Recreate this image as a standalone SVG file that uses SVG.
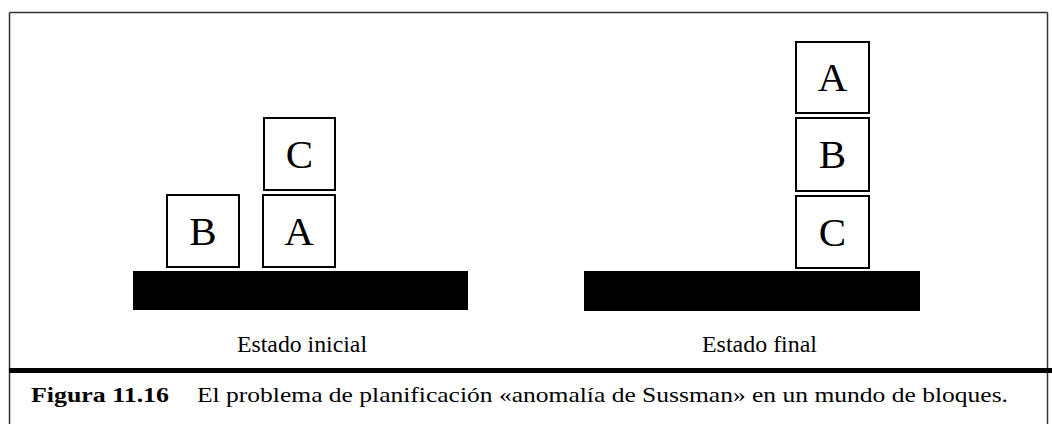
<svg xmlns="http://www.w3.org/2000/svg" width="1052" height="424" viewBox="0 0 1052 424">
<style>
.blk{fill:#fff;stroke:#000;stroke-width:2}
.serif{font-family:'Liberation Serif',Tinos,'Times New Roman',Times,serif}
.lt{font-size:41px;fill:#000;text-anchor:middle}
.lbl{font-size:23px;fill:#000}
.cap{font-size:22px;fill:#000}
.bar{fill:#000}
</style>
<rect width="1052" height="424" fill="#fff"/>
<g id="frame">
<path d="M9.5,12.5 H1047.5 M9.5,12.5 V424 M1047.5,12.5 V424" fill="none" stroke="#333" stroke-width="1.5"/>
<rect x="9" y="368" width="1043" height="5" fill="#000"/>
</g>
<g id="initial" class="serif">
<rect id="table-initial" class="bar" x="133" y="271" width="335" height="39"/>
<g id="init-B"><rect class="blk" x="167" y="195" width="72" height="72"/><text class="lt" x="203" y="245">B</text></g>
<g id="init-A"><rect class="blk" x="263" y="195" width="72" height="72"/><text class="lt" x="299" y="245">A</text></g>
<g id="init-C"><rect class="blk" x="264" y="118" width="71" height="72"/><text class="lt" x="299.5" y="168">C</text></g>
<text class="lbl" x="237" y="352" textLength="130" lengthAdjust="spacingAndGlyphs">Estado inicial</text>
</g>
<g id="final" class="serif">
<rect id="table-final" class="bar" x="584" y="271" width="336" height="40"/>
<g id="final-A"><rect class="blk" x="796" y="42" width="73" height="71"/><text class="lt" x="832.5" y="91">A</text></g>
<g id="final-B"><rect class="blk" x="796" y="118" width="73" height="73"/><text class="lt" x="832.5" y="168">B</text></g>
<g id="final-C"><rect class="blk" x="796" y="196" width="73" height="72"/><text class="lt" x="832.5" y="246">C</text></g>
<text class="lbl" x="702" y="352" textLength="115" lengthAdjust="spacingAndGlyphs">Estado final</text>
</g>
<g id="connectors"></g>
<g id="caption" class="serif">
<text class="cap" x="31" y="402" font-weight="bold" textLength="138" lengthAdjust="spacingAndGlyphs">Figura 11.16</text>
<text class="cap" x="197" y="402" textLength="811" lengthAdjust="spacingAndGlyphs">El problema de planificación «anomalía de Sussman» en un mundo de bloques.</text>
</g>
</svg>
